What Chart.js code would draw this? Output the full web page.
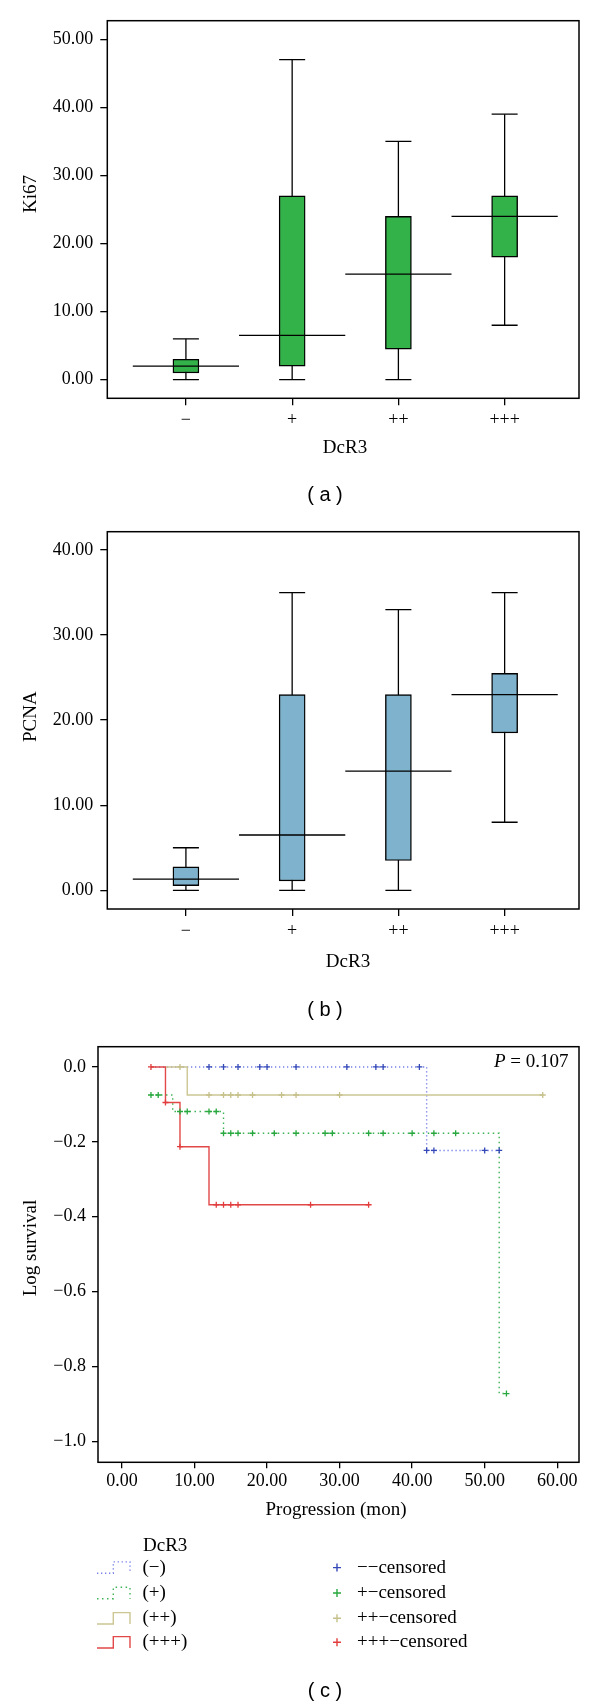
<!DOCTYPE html>
<html><head><meta charset="utf-8">
<script src="https://cdn.jsdelivr.net/npm/chart.js@4.4.1/dist/chart.umd.min.js"></script>
<style>
html,body{margin:0;padding:0;background:#fff;}
body{width:600px;height:1706px;position:relative;overflow:hidden;}
canvas{position:absolute;left:0;}
</style></head><body>
<canvas id="ki67" width="600" height="505" style="top:0;width:600px;height:505px"></canvas>
<canvas id="pcna" width="600" height="515" style="top:505px;width:600px;height:515px"></canvas>
<canvas id="surv" width="600" height="686" style="top:1020px;width:600px;height:686px"></canvas>
<script>
// ---------- data ----------
const categories = ['\u2212', '+', '++', '+++'];

const ki67Min    = [0, 0, 0, 8];
const ki67Q1     = [1, 2, 4.5, 18];
const ki67Median = [2, 6.5, 15.5, 24];
const ki67Q3     = [3, 27, 24, 27];
const ki67Max    = [6, 47, 35, 39];
const ki67Ticks  = [0, 10, 20, 30, 40, 50];

const pcnaMin    = [0, 0, 0, 8];
const pcnaQ1     = [0.55, 1.1, 3.5, 18.5];
const pcnaMedian = [1.3, 6.5, 14, 23];
const pcnaQ3     = [2.75, 23, 23, 25.5];
const pcnaMax    = [5, 35, 33, 35];
const pcnaTicks  = [0, 10, 20, 30, 40];

// Kaplan-Meier log survival steps (time of step, log survival after step)
const negTimes = [4, 42, 52];
const negLogS  = [0, -0.223, -0.223];
const negCensored = [12, 14, 16, 19, 20, 24, 31, 35, 36, 41, 42, 43, 50, 52];

const posTimes = [4, 7, 14, 52, 53];
const posLogS  = [-0.075, -0.119, -0.177, -0.872, -0.872];
const posCensored = [4, 5, 8, 9, 12, 13, 14, 15, 16, 18, 21, 24, 28, 29, 34, 36, 40, 43, 46, 53];

const pp2Times = [6, 9, 58];
const pp2LogS  = [0, -0.075, -0.075];
const pp2Censored = [8, 12, 14, 15, 16, 18, 22, 24, 30, 58];

const pp3Times = [4, 6, 8, 12, 34];
const pp3LogS  = [0, -0.095, -0.213, -0.368, -0.368];
const pp3Censored = [4, 6, 8, 13, 14, 15, 16, 26, 34];

const survXTicks = [0, 10, 20, 30, 40, 50, 60];
const survYTicks = [0, -0.2, -0.4, -0.6, -0.8, -1.0];
const groupLabels = ['(\u2212)', '(+)', '(++)', '(+++)'];
const censorLabels = ['\u2212\u2212censored', '+\u2212censored', '++\u2212censored', '+++\u2212censored'];
const pValueText = '0.107';

// ---------- styles ----------
const SERIF = "'Liberation Serif', 'Times New Roman', serif";
const SANS = "'Liberation Sans', Arial, sans-serif";
Chart.defaults.font.family = SERIF;
Chart.defaults.font.size = 18;
Chart.defaults.color = '#000';

const framePlugin = {
  id: 'frame',
  afterDatasetsDraw(chart) {
    const {ctx, chartArea: a} = chart;
    ctx.save();
    ctx.strokeStyle = '#000';
    ctx.lineWidth = 1.5;
    ctx.strokeRect(a.left, a.top, a.right - a.left, a.bottom - a.top);
    ctx.restore();
  }
};

const textPlugin = {
  id: 'texts',
  afterDraw(chart, args, opts) {
    const ctx = chart.ctx;
    (opts.items || []).forEach(it => {
      ctx.save();
      ctx.font = it.font;
      ctx.fillStyle = '#000';
      ctx.textAlign = it.align || 'center';
      ctx.textBaseline = 'middle';
      ctx.translate(it.x, it.y);
      if (it.rotate) ctx.rotate(it.rotate);
      ctx.fillText(it.text, 0, 0);
      ctx.restore();
    });
  }
};

function gridOpts(len) {
  return {display: true, drawOnChartArea: false, drawTicks: true, tickLength: len,
          color: '#000', lineWidth: 1.3, offset: false};
}

function boxChart(id, mins, q1s, meds, q3s, maxs, yTicks, yMin, yMax, fill, padTop, canvasH, items) {
  const idx = categories.map((c, i) => i);
  const whiskers = [];
  idx.forEach(i => whiskers.push({x: i, y: mins[i]}, {x: i, y: maxs[i]}, {x: i, y: null}));
  const boxes = idx.map(i => ({x: i, y: [q1s[i], q3s[i]]}));
  const medians = [];
  idx.forEach(i => medians.push({x: i - 0.5, y: meds[i]}, {x: i + 0.5, y: meds[i]}, {x: i + 0.5, y: null}));
  const areaBottom = {ki67: 398.3, pcna: 404}[id];
  return new Chart(document.getElementById(id), {
    type: 'bar',
    data: {
      datasets: [
        {type: 'line', data: whiskers, borderColor: '#000', borderWidth: 1.3, spanGaps: false,
         pointStyle: 'line', pointBorderColor: '#000', pointBorderWidth: 1.3,
         pointRadius: c => (c.raw && c.raw.y != null) ? 13 : 0, order: 3},
        {type: 'bar', data: boxes, backgroundColor: fill, borderColor: '#000', borderWidth: 1.4,
         borderSkipped: false, barThickness: 26, order: 2},
        {type: 'line', data: medians, borderColor: '#000', borderWidth: 1.3, spanGaps: false,
         pointRadius: 0, order: 1}
      ]
    },
    options: {
      responsive: false, animation: false, devicePixelRatio: 1,
      layout: {padding: {top: padTop, right: 21, bottom: 0, left: 0}},
      plugins: {legend: {display: false}, tooltip: {enabled: false}, texts: {items}},
      scales: {
        x: {type: 'linear', min: -0.74, max: 3.70, offset: false,
            afterBuildTicks: s => { s.ticks = idx.map(v => ({value: v})); },
            afterFit: s => { s.height = canvasH - areaBottom; },
            ticks: {callback: v => categories[v], padding: 4, autoSkip: false, maxRotation: 0},
            grid: gridOpts(7), border: {display: false}},
        y: {type: 'linear', min: yMin, max: yMax,
            afterBuildTicks: s => { s.ticks = yTicks.map(v => ({value: v})); },
            afterFit: s => { s.width = 107.3; },
            ticks: {callback: v => v.toFixed(2), padding: 7, autoSkip: false},
            grid: gridOpts(7), border: {display: false}}
      }
    },
    plugins: [framePlugin, textPlugin]
  });
}

boxChart('ki67', ki67Min, ki67Q1, ki67Median, ki67Q3, ki67Max, ki67Ticks, -2.73, 52.73, '#34b24a', 20.7, 505, [
  {text: 'Ki67', x: 31, y: 194, font: '19px ' + SERIF, rotate: -Math.PI / 2},
  {text: 'DcR3', x: 345, y: 448.3, font: '19px ' + SERIF},
  {text: '( a )', x: 325, y: 495, font: '20px ' + SANS}
]);

boxChart('pcna', pcnaMin, pcnaQ1, pcnaMedian, pcnaQ3, pcnaMax, pcnaTicks, -2.2, 42.15, '#7fb2cc', 26.7, 515, [
  {text: 'PCNA', x: 31, y: 211.7, font: '19px ' + SERIF, rotate: -Math.PI / 2},
  {text: 'DcR3', x: 348, y: 457.3, font: '19px ' + SERIF},
  {text: '( b )', x: 325, y: 505, font: '20px ' + SANS}
]);

// ---------- survival ----------
const groups = [
  {times: negTimes, logS: negLogS, cens: negCensored, line: 'rgb(118,128,232)', mark: 'rgb(52,72,184)', dash: [1.3, 2.7], order: 8},
  {times: posTimes, logS: posLogS, cens: posCensored, line: 'rgb(64,178,88)', mark: 'rgb(40,168,62)', dash: [1.5, 3.5], order: 7},
  {times: pp2Times, logS: pp2LogS, cens: pp2Censored, line: 'rgb(204,198,146)', mark: 'rgb(198,192,138)', dash: [], order: 6},
  {times: pp3Times, logS: pp3LogS, cens: pp3Censored, line: 'rgb(226,72,72)', mark: 'rgb(226,60,60)', dash: [], order: 5}
];
function logSAt(g, t) {
  let v = g.logS[0];
  g.times.forEach((tt, i) => { if (tt <= t) v = g.logS[i]; });
  return v;
}
const survDatasets = [];
groups.forEach((g, k) => {
  survDatasets.push({type: 'line', data: g.times.map((t, i) => ({x: t, y: g.logS[i]})),
    stepped: 'before', borderColor: g.line, borderWidth: 1.4, borderDash: g.dash,
    pointRadius: 0, fill: false, order: g.order});
  survDatasets.push({type: 'line', showLine: false, data: g.cens.map(t => ({x: t, y: logSAt(g, t)})),
    pointStyle: 'cross', pointRadius: 3, pointBorderColor: g.mark, pointBorderWidth: 1.3, order: 4 - k});
});

const legendRows = [1567.6, 1593, 1618.3, 1642.3].map(v => v - 1020);
const kmLegend = {
  id: 'kmLegend',
  afterDraw(chart) {
    const ctx = chart.ctx;
    ctx.save();
    ctx.font = '19px ' + SERIF;
    ctx.textBaseline = 'middle';
    ctx.textAlign = 'left';
    ctx.fillStyle = '#000';
    ctx.fillText('DcR3', 143, 525.7);
    groups.forEach((g, k) => {
      const y = legendRows[k];
      ctx.save();
      ctx.strokeStyle = g.line; ctx.lineWidth = 1.4; ctx.setLineDash(g.dash);
      ctx.beginPath();
      ctx.moveTo(97, y + 5.7); ctx.lineTo(113.3, y + 5.7); ctx.lineTo(113.3, y - 5.7);
      ctx.lineTo(130, y - 5.7); ctx.lineTo(130, y + 5.7);
      ctx.stroke();
      ctx.restore();
      ctx.fillText(groupLabels[k], 142.5, y);
      ctx.save();
      ctx.strokeStyle = g.mark; ctx.lineWidth = 1.4;
      ctx.beginPath();
      ctx.moveTo(333, y); ctx.lineTo(341, y); ctx.moveTo(337, y - 4); ctx.lineTo(337, y + 4);
      ctx.stroke();
      ctx.restore();
      ctx.fillText(censorLabels[k], 357, y);
    });
    // P value
    ctx.textAlign = 'left';
    const rest = ' = ' + pValueText;
    const wRest = ctx.measureText(rest).width;
    ctx.font = 'italic 19px ' + SERIF;
    const wP = ctx.measureText('P').width;
    const x0 = 568.5 - wRest - wP;
    ctx.fillText('P', x0, 41.7);
    ctx.font = '19px ' + SERIF;
    ctx.fillText(rest, x0 + wP, 41.7);
    ctx.restore();
  }
};

new Chart(document.getElementById('surv'), {
  type: 'line',
  data: {datasets: survDatasets},
  options: {
    responsive: false, animation: false, devicePixelRatio: 1,
    layout: {padding: {top: 26.7, right: 21, bottom: 0, left: 0}},
    plugins: {legend: {display: false}, tooltip: {enabled: false}, texts: {items: [
      {text: 'Log survival', x: 31, y: 228, font: '19px ' + SERIF, rotate: -Math.PI / 2},
      {text: 'Progression (mon)', x: 336, y: 490, font: '19px ' + SERIF},
      {text: '( c )', x: 325, y: 671.7, font: '20px ' + SANS}
    ]}},
    scales: {
      x: {type: 'linear', min: -3.3, max: 63,
          afterBuildTicks: s => { s.ticks = survXTicks.map(v => ({value: v})); },
          afterFit: s => { s.height = 686 - 442.3; },
          ticks: {callback: v => v.toFixed(2), padding: 2.5, autoSkip: false, maxRotation: 0},
          grid: gridOpts(6), border: {display: false}},
      y: {type: 'linear', min: -1.0555, max: 0.054,
          afterBuildTicks: s => { s.ticks = survYTicks.map(v => ({value: v})); },
          afterFit: s => { s.width = 98; },
          ticks: {callback: v => (v < 0 ? '\u2212' + Math.abs(v).toFixed(1) : v.toFixed(1)), padding: 6, autoSkip: false},
          grid: gridOpts(6), border: {display: false}}
    }
  },
  plugins: [framePlugin, textPlugin, kmLegend]
});
</script></body></html>
